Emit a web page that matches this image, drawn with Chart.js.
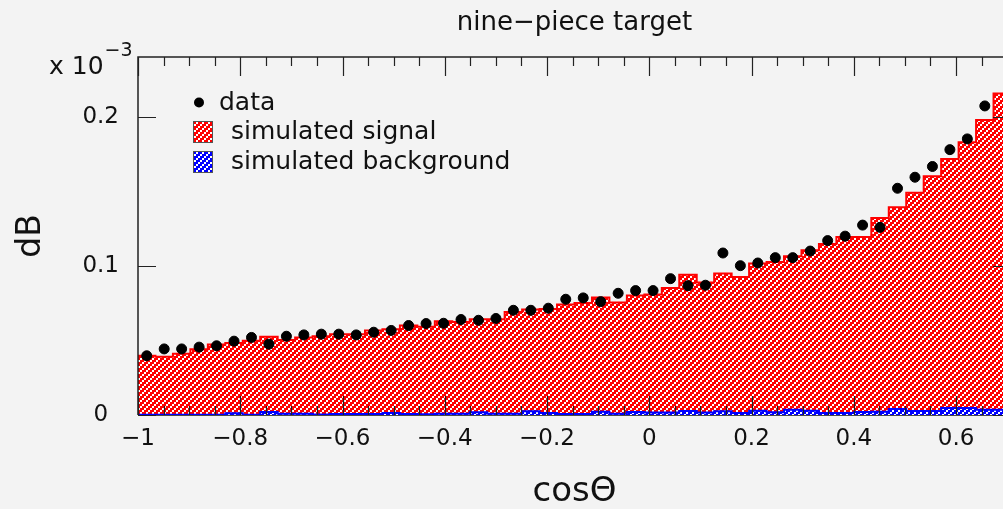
<!DOCTYPE html>
<html>
<head>
<meta charset="utf-8">
<script src="https://cdn.jsdelivr.net/npm/chart.js@4.4.1/dist/chart.umd.min.js"></script>
<style>
  html, body { margin: 0; padding: 0; background: #f3f3f3; overflow: hidden; width: 1003px; height: 509px; }
  canvas { display: block; }
</style>
</head>
<body>
<canvas id="c" width="1150" height="509"></canvas>
<script>
// ---- texts ----
const titleText = 'nine\u2212piece target';
const xTitle = 'cos\u0398';
const yTitle = 'dB';
const exponentBase = 'x 10';
const exponentPower = '\u22123';
const legendLabels = ['data', 'simulated signal', 'simulated background'];

// ---- binning (cos theta, 50 bins starting at -1) ----
const binStart = -1;
const binWidth = 0.03415;

// ---- tick labels ----
const xTickValues = [-1, -0.8, -0.6, -0.4, -0.2, 0, 0.2, 0.4, 0.6];
const yTickValues = [0, 0.1, 0.2];

// ---- series (units of 10^-3) ----
const signal = [
  0.0397, 0.0390, 0.0410, 0.0440, 0.0473, 0.0482, 0.0497, 0.0524, 0.0502, 0.0520,
  0.0528, 0.0542, 0.0542, 0.0566, 0.0575, 0.0600, 0.0592, 0.0629, 0.0624, 0.0642,
  0.0642, 0.0691, 0.0707, 0.0710, 0.0740, 0.0751, 0.0787, 0.0754, 0.0801, 0.0807,
  0.0852, 0.0941, 0.0888, 0.0948, 0.0925, 0.1015, 0.1026, 0.1064, 0.1104, 0.1146,
  0.1193, 0.1193, 0.1320, 0.1393, 0.1490, 0.1601, 0.1717, 0.1828, 0.1978, 0.2156
];
const measured = [
  0.0397, 0.0443, 0.0443, 0.0455, 0.0464, 0.0495, 0.0520, 0.0475, 0.0528, 0.0537,
  0.0542, 0.0542, 0.0537, 0.0555, 0.0567, 0.0600, 0.0613, 0.0615, 0.0640, 0.0635,
  0.0647, 0.0702, 0.0702, 0.0716, 0.0776, 0.0785, 0.0760, 0.0816, 0.0834, 0.0834,
  0.0914, 0.0867, 0.0870, 0.1086, 0.1001, 0.1019, 0.1055, 0.1055, 0.1099, 0.1169,
  0.1199, 0.1273, 0.1258, 0.1520, 0.1594, 0.1666, 0.1779, 0.1851, 0.2072, null
];
const background = [
  0.0002, 0.0002, 0.0002, 0.0002, 0.0002, 0.0011, 0.0002, 0.0020, 0.0009, 0.0009,
  0.0004, 0.0007, 0.0007, 0.0007, 0.0013, 0.0007, 0.0005, 0.0009, 0.0009, 0.0018,
  0.0009, 0.0009, 0.0025, 0.0013, 0.0007, 0.0007, 0.0022, 0.0009, 0.0020, 0.0016,
  0.0016, 0.0027, 0.0016, 0.0025, 0.0013, 0.0029, 0.0018, 0.0036, 0.0029, 0.0013,
  0.0013, 0.0020, 0.0022, 0.0040, 0.0027, 0.0027, 0.0047, 0.0047, 0.0036, 0.0036
];

const FONT = '"DejaVu Sans", "Liberation Sans", sans-serif';
const INK = '#111111';
const BG = '#f3f3f3';

// hatched fill for the histograms: 2x2-pixel cells laid out as a diagonal brick
const TILE = ['WRR', 'RRW', 'RWR'];
function hatch(rgb) {
  const n = TILE.length, cell = 2, size = n * cell;
  const t = document.createElement('canvas');
  t.width = size; t.height = size;
  const g = t.getContext('2d');
  const img = g.createImageData(size, size);
  for (let py = 0; py < size; py++) {
    for (let px = 0; px < size; px++) {
      const o = (py * size + px) * 4;
      const white = TILE[Math.floor(py / cell)][Math.floor(px / cell)] === 'W';
      img.data[o] = white ? 255 : rgb[0];
      img.data[o + 1] = white ? 255 : rgb[1];
      img.data[o + 2] = white ? 255 : rgb[2];
      img.data[o + 3] = 255;
    }
  }
  g.putImageData(img, 0, 0);
  return document.getElementById('c').getContext('2d').createPattern(t, 'repeat');
}
const redFill = hatch([255, 0, 0]);
const blueFill = hatch([0, 0, 255]);

// step histogram: one point per left bin edge plus the closing right edge
function histPoints(values) {
  const pts = values.map((v, i) => ({ x: binStart + i * binWidth, y: v }));
  pts.push({ x: binStart + values.length * binWidth, y: values[values.length - 1] });
  return pts;
}
function markerPoints(values) {
  const pts = [];
  values.forEach((v, i) => { if (v !== null) pts.push({ x: binStart + (i + 0.5) * binWidth, y: v }); });
  return pts;
}
function fmt(v) {
  const r = Math.round(v * 10) / 10;
  if (r === 0) return '0';
  return String(r).replace('-', '\u2212');
}

const xMax = binStart + signal.length * binWidth;

// frame, inside ticks on all four sides, canvas colour
const frameAndTicks = {
  id: 'frameAndTicks',
  beforeDraw(chart) {
    const { ctx, width, height } = chart;
    ctx.save();
    ctx.fillStyle = BG;
    ctx.fillRect(0, 0, width, height);
    ctx.restore();
  },
  beforeDatasetsDraw(chart) {
    const { ctx, chartArea: a } = chart;
    ctx.save();
    ctx.strokeStyle = INK; ctx.lineWidth = 1.5;
    ctx.beginPath(); ctx.moveTo(a.left, a.bottom); ctx.lineTo(a.right, a.bottom); ctx.stroke();
    ctx.restore();
  },
  afterDatasetsDraw(chart) {
    const { ctx, chartArea: a, scales: { x, y } } = chart;
    ctx.save();
    ctx.strokeStyle = '#222222';
    ctx.lineWidth = 1.5;
    ctx.beginPath();
    ctx.moveTo(a.left, a.bottom); ctx.lineTo(a.left, a.top);
    ctx.lineTo(a.right, a.top); ctx.lineTo(a.right, a.bottom);
    ctx.stroke();
    ctx.lineWidth = 1.2;
    ctx.beginPath();
    for (let k = 0; ; k++) {
      const v = x.min + k * 0.05;
      if (v > x.max + 1e-9) break;
      const px = Math.round(x.getPixelForValue(v)) + 0.5;
      const len = (k % 4 === 0) ? 19 : 9;
      ctx.moveTo(px, a.top); ctx.lineTo(px, a.top + len);
      ctx.moveTo(px, a.bottom); ctx.lineTo(px, a.bottom - len);
    }
    yTickValues.forEach(v => {
      const py = Math.round(y.getPixelForValue(v)) + 0.5;
      ctx.moveTo(a.left, py); ctx.lineTo(a.left + 18, py);
      ctx.moveTo(a.right, py); ctx.lineTo(a.right - 18, py);
    });
    ctx.stroke();
    ctx.restore();
  },
  afterDraw(chart) {
    const { ctx } = chart;
    ctx.save();
    ctx.fillStyle = INK;
    ctx.textBaseline = 'alphabetic';
    ctx.textAlign = 'left';
    ctx.font = '25px ' + FONT;
    ctx.fillText(exponentBase, 49, 74);
    const w = ctx.measureText(exponentBase).width;
    ctx.font = '19px ' + FONT;
    ctx.fillText(exponentPower, 49 + w + 1, 56);
    ctx.restore();
  }
};

// legend box in the upper-left corner of the frame
const legendBox = {
  id: 'legendBox',
  afterDraw(chart) {
    const { ctx } = chart;
    ctx.save();
    ctx.fillStyle = '#000';
    ctx.beginPath(); ctx.arc(199, 102.5, 5, 0, Math.PI * 2); ctx.fill();
    const boxes = [[redFill, 121], [blueFill, 151]];
    boxes.forEach(([fill, top]) => {
      ctx.fillStyle = fill;
      ctx.fillRect(193, top, 19, 21);
      ctx.strokeStyle = '#555';
      ctx.lineWidth = 1;
      ctx.strokeRect(193.5, top + 0.5, 19, 21);
    });
    ctx.fillStyle = INK;
    ctx.font = '25px ' + FONT;
    ctx.textBaseline = 'middle';
    ctx.textAlign = 'left';
    ctx.fillText(legendLabels[0], 219, 103);
    ctx.fillText(legendLabels[1], 231, 132);
    ctx.fillText(legendLabels[2], 231, 162);
    ctx.restore();
  }
};

new Chart(document.getElementById('c').getContext('2d'), {
  type: 'line',
  data: {
    datasets: [
      {
        label: legendLabels[0], type: 'scatter', data: markerPoints(measured),
        pointRadius: 5, pointBorderWidth: 1, pointBackgroundColor: '#000', pointBorderColor: '#000',
        showLine: false, order: 0
      },
      {
        label: legendLabels[2], data: histPoints(background), stepped: true,
        borderColor: '#0000ff', borderWidth: 2, backgroundColor: blueFill, fill: 'origin',
        pointRadius: 0, order: 1
      },
      {
        label: legendLabels[1], data: histPoints(signal), stepped: true,
        borderColor: '#ff0000', borderWidth: 2, backgroundColor: redFill, fill: 'origin',
        pointRadius: 0, order: 2
      }
    ]
  },
  options: {
    responsive: false,
    animation: false,
    devicePixelRatio: 1,
    layout: { padding: { top: 0, right: 139, bottom: 0, left: 0 } },
    plugins: {
      legend: { display: false },
      tooltip: { enabled: false },
      title: {
        display: true, text: titleText, fullSize: false, color: INK,
        font: { family: FONT, size: 26, weight: 'normal' },
        padding: { top: 8, bottom: 17.8 }
      }
    },
    scales: {
      x: {
        type: 'linear', min: binStart, max: xMax,
        grid: { display: false, drawTicks: false }, border: { display: false },
        afterBuildTicks: s => { s.ticks = xTickValues.map(v => ({ value: v })); },
        afterFit: s => { s.height = 94; },
        ticks: {
          autoSkip: false, maxRotation: 0, padding: 10, color: INK,
          font: { family: FONT, size: 23 }, callback: v => fmt(v)
        },
        title: {
          display: true, text: xTitle, color: INK,
          font: { family: FONT, size: 34, lineHeight: 1 }, padding: { top: 0, bottom: 0 }
        }
      },
      y: {
        type: 'linear', min: 0, max: 0.24,
        grid: { display: false, drawTicks: false }, border: { display: false },
        afterBuildTicks: s => { s.ticks = yTickValues.map(v => ({ value: v })); },
        afterFit: s => { s.width = 138; },
        ticks: {
          crossAlign: 'center', padding: 19, color: INK,
          font: { family: FONT, size: 23 }, callback: v => fmt(v)
        },
        title: {
          display: true, text: yTitle, color: INK,
          font: { family: FONT, size: 33, lineHeight: 1 }, padding: { top: 15, bottom: 0 }
        }
      }
    }
  },
  plugins: [frameAndTicks, legendBox]
});
</script>
</body>
</html>
